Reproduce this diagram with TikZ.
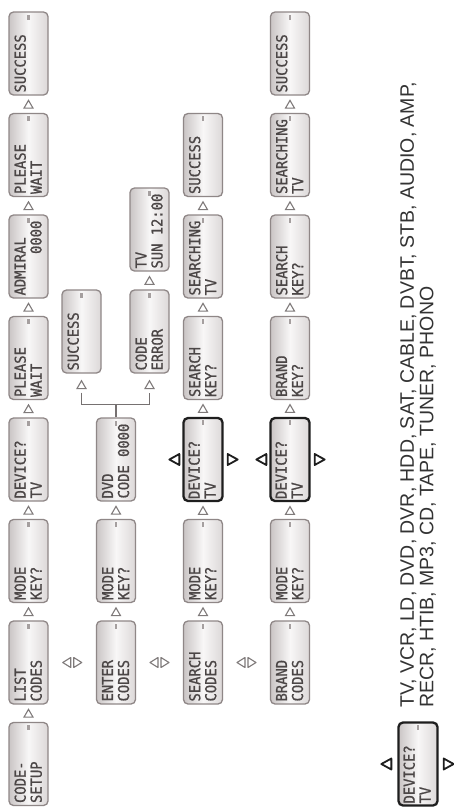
\documentclass[tikz,border=0pt]{standalone}
\usepackage{fontspec}
\setmainfont{Liberation Sans}
\newfontfamily\lcdfont[FakeStretch=0.92,FakeBold=0.9]{DejaVu Sans Mono}
\usetikzlibrary{calc,shapes.geometric}
\definecolor{boxline}{HTML}{8F8787}
\definecolor{boldline}{HTML}{1E1E1E}
\definecolor{trigray}{HTML}{7F7A7A}
\definecolor{brgray}{HTML}{767171}
\definecolor{lcdink}{HTML}{4B4646}
\definecolor{lcdL}{HTML}{CAC5C5}
\definecolor{lcdM}{HTML}{F8F7F7}
\definecolor{lcdR}{HTML}{DCD8D8}
\definecolor{listink}{HTML}{333333}
\tikzset{
  lcdbox/.style={rectangle, draw=boxline, line width=1.3pt, rounded corners=4.5pt,
    minimum width=39pt, minimum height=83pt, inner sep=0pt,
    left color=lcdL, right color=lcdR, middle color=lcdM},
  boldbox/.style={lcdbox, draw=boldline, line width=2.3pt},
  lcdtext/.style={rotate=90, anchor=north west, align=left, inner sep=0pt,
    text=lcdink, font=\lcdfont\fontsize{15}{16}\selectfont},
  uptri/.style={regular polygon, regular polygon sides=3, draw=trigray,
    line width=1.1pt, minimum size=10.4pt, inner sep=0pt, yshift=-1.3pt},
  tri/.style={draw=trigray, line width=1.1pt, line join=round},
  btri/.style={draw=boldline, line width=1.8pt, fill=white, line join=round},
  bracket/.style={draw=brgray, line width=1.4pt},
  sqmark/.style={fill=boxline!80}
}
% box: [style] name, x-centre, top, line1, line2
\newcommand{\lcd}[6][lcdbox]{%
  \node[#1] (#2) at (#3,#4+41.5) {};
  \fill[sqmark] ([xshift=-1.2pt,yshift=-3.5pt]#2.north) rectangle ++(2.4pt,-5pt);
  \node[lcdtext] (#2-t) at ([xshift=6pt,yshift=3pt]#2.south west) {#5\\#6};
}
\newcommand{\uptri}[2]{\node[uptri] (u-#1-#2) at ($(#1.north)!.5!(#2.south)$) {};}
\newcommand{\dblarrow}[2]{%
  \coordinate (m-#1-#2) at ($(#1.east)!.5!(#2.west)$);
  \draw[tri] ([xshift=-1.5pt,yshift=5pt]m-#1-#2) -- ++(-8pt,-5pt) -- ++(8pt,-5pt) -- cycle;
  \draw[tri] ([xshift=1.5pt,yshift=5pt]m-#1-#2) -- ++(8pt,-5pt) -- ++(-8pt,-5pt) -- cycle;
}
\newcommand{\sidearrows}[3]{% node, left gap, right gap
  \draw[btri] ([xshift=-#2,yshift=5.5pt]#1.west) -- ++(-10pt,-5.5pt) -- ++(10pt,-5.5pt) -- cycle;
  \draw[btri] ([xshift=#3,yshift=5.5pt]#1.east) -- ++(10pt,-5.5pt) -- ++(-10pt,-5.5pt) -- cycle;
}
\begin{document}
\begin{tikzpicture}[x=1pt,y=-1pt]
\fill[white] (0,0) rectangle (454,807);
\useasboundingbox (0,0) rectangle (454,807);

% column 1
\lcd{a7}{28.5}{722.5}{CODE-}{SETUP}
\lcd{a6}{28.5}{621}{LIST}{CODES}
\lcd{a5}{28.5}{519.5}{MODE}{KEY?}
\lcd{a4}{28.5}{418}{DEVICE?}{TV}
\lcd{a3}{28.5}{316.5}{PLEASE}{WAIT}
\lcd{a2}{28.5}{215}{ADMIRAL}{\hphantom{XXXXX}0000}
\lcd{a1}{28.5}{113.5}{PLEASE}{WAIT}
\lcd{a0}{28.5}{12}{SUCCESS}{}
\uptri{a7}{a6}\uptri{a6}{a5}\uptri{a5}{a4}\uptri{a4}{a3}
\uptri{a3}{a2}\uptri{a2}{a1}\uptri{a1}{a0}

% column 2
\lcd{b6}{116}{621}{ENTER}{CODES}
\lcd{b5}{116}{519.5}{MODE}{KEY?}
\lcd{b4}{116}{418}{DVD}{CODE 0000}
\lcd{bs}{81.5}{290}{SUCCESS}{}
\lcd{be}{149.5}{290}{CODE}{ERROR}
\lcd{bt}{149.5}{188}{TV}{SUN 12:00}
\uptri{b6}{b5}\uptri{b5}{b4}\uptri{be}{bt}
\coordinate (bj) at ([yshift=13pt]b4.north);
\draw[bracket] (b4.north) -- (bj);
\draw[bracket] ([yshift=-19pt]bs.south) |- (bj) -| ([yshift=-19pt]be.south);
\node[uptri] (u-bs) at ([yshift=-11pt]bs.south) {};
\node[uptri] (u-be) at ([yshift=-11pt]be.south) {};

% column 3
\lcd{c6}{203}{621}{SEARCH}{CODES}
\lcd{c5}{203}{519.5}{MODE}{KEY?}
\lcd[boldbox]{c4}{203}{418}{DEVICE?}{TV}
\lcd{c3}{203}{316.5}{SEARCH}{KEY?}
\lcd{c2}{203}{215}{SEARCHING}{TV}
\lcd{c1}{203}{113.5}{SUCCESS}{}
\uptri{c6}{c5}\uptri{c5}{c4}\uptri{c4}{c3}\uptri{c3}{c2}\uptri{c2}{c1}
\sidearrows{c4}{3pt}{4pt}

% column 4
\lcd{d6}{290}{621}{BRAND}{CODES}
\lcd{d5}{290}{519.5}{MODE}{KEY?}
\lcd[boldbox]{d4}{290}{418}{DEVICE?}{TV}
\lcd{d3}{290}{316.5}{BRAND}{KEY?}
\lcd{d2}{290}{215}{SEARCH}{KEY?}
\lcd{d1}{290}{113.5}{SEARCHING}{TV}
\lcd{d0}{290}{12}{SUCCESS}{}
\uptri{d6}{d5}\uptri{d5}{d4}\uptri{d4}{d3}\uptri{d3}{d2}\uptri{d2}{d1}\uptri{d1}{d0}
\sidearrows{d4}{3pt}{4pt}

% switching between modes
\dblarrow{a6}{b6}\dblarrow{b6}{c6}\dblarrow{c6}{d6}

% legend
\lcd[boldbox]{lg}{418}{722.5}{DEVICE?}{TV}
\sidearrows{lg}{6pt}{5pt}
\node[rotate=90, anchor=north west, align=left, inner sep=0pt, text=listink,
  font=\fontsize{19.5}{19.5}\selectfont] (list) at (400,708)
  {TV, VCR, LD, DVD, DVR, HDD, SAT, CABLE, DVBT, STB, AUDIO, AMP,\\
   RECR, HTIB, MP3, CD, TAPE, TUNER, PHONO};
\end{tikzpicture}
\end{document}
